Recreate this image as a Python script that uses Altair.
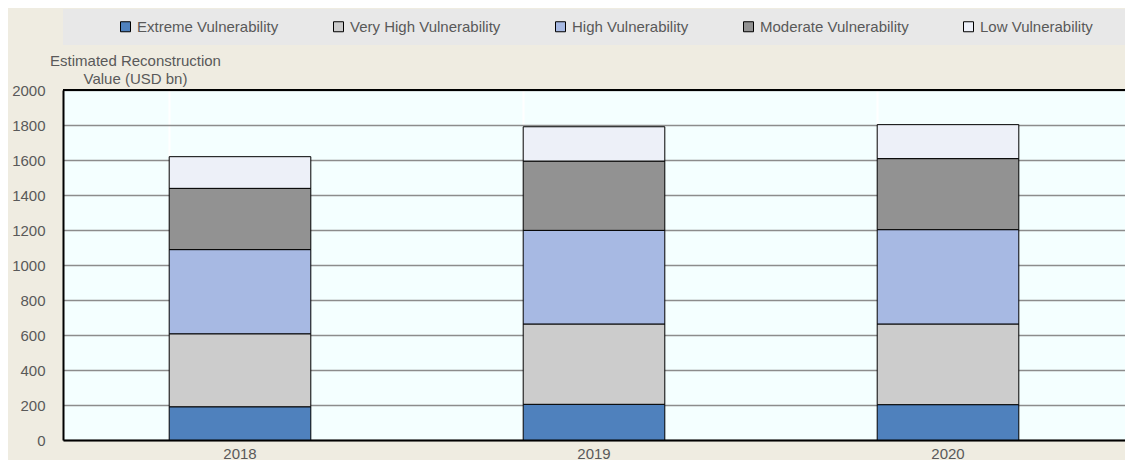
import altair as alt
import pandas as pd

years = ["2018", "2019", "2020"]
categories = ["Extreme Vulnerability", "Very High Vulnerability", "High Vulnerability",
              "Moderate Vulnerability", "Low Vulnerability"]
colors = ["#4f81bd", "#cccccc", "#a7b9e3", "#929292", "#edf0f8"]
extreme = [190, 204, 202]
very_high = [417, 459, 461]
high = [481, 535, 539]
moderate = [350, 396, 406]
low = [181, 196, 194]
y_ticks = list(range(0, 2001, 200))

series = [extreme, very_high, high, moderate, low]
rows = []
for ci, (cat, vals) in enumerate(zip(categories, series)):
    for y, v in zip(years, vals):
        rows.append({"year": y, "category": cat, "value": v, "order": ci})
df = pd.DataFrame(rows)

W = 1062
H = 350
FONT = "Liberation Sans"
TXT = "#595959"

strip = alt.Chart(pd.DataFrame({"a": [0]})).mark_rect(color="#e8e8e8").encode(
    x=alt.value(0), x2=alt.value(W), y=alt.value(-81), y2=alt.value(-45)
)

bars = alt.Chart(df).mark_bar(stroke="black", strokeWidth=1).encode(
    x=alt.X("year:N", title=None,
            scale=alt.Scale(paddingInner=0.6, paddingOuter=0.3),
            axis=alt.Axis(labelAngle=0, labelFont=FONT, labelFontSize=15, labelColor=TXT,
                          labelPadding=6, ticks=False, domainColor="black", domainWidth=2,
                          grid=True, gridColor="white", gridWidth=2, bandPosition=0)),
    y=alt.Y("value:Q", stack="zero",
            scale=alt.Scale(domain=[0, 2000], nice=False),
            axis=alt.Axis(values=y_ticks, format="d",
                          title=["Estimated Reconstruction", "Value (USD bn)"],
                          titleAngle=0, titleAlign="center", titleBaseline="bottom",
                          titleX=72, titleY=-22, titleFont=FONT, titleFontSize=15,
                          titleFontWeight="normal", titleColor=TXT, titleLineHeight=18,
                          labelFont=FONT, labelFontSize=15, labelColor=TXT, labelPadding=18,
                          ticks=False, domainColor="black", domainWidth=2,
                          gridColor="#8c8c8c", gridWidth=1.5)),
    color=alt.Color("category:N",
                    scale=alt.Scale(domain=categories, range=colors),
                    legend=alt.Legend(title=None, orient="none", legendX=55, legendY=-71,
                                      direction="horizontal", columns=5, columnPadding=52,
                                      symbolType="square", symbolSize=100,
                                      symbolStrokeColor="black", symbolStrokeWidth=1,
                                      symbolOpacity=1, labelFont=FONT, labelFontSize=15,
                                      labelColor=TXT, labelOffset=4, labelLimit=300)),
    order=alt.Order("order:Q"),
)

top_border = alt.Chart(pd.DataFrame({"a": [0]})).mark_rule(color="black", strokeWidth=2).encode(
    x=alt.value(0), x2=alt.value(W), y=alt.value(0)
)

chart = alt.layer(strip, bars, top_border).properties(
    width=W, height=H,
    background="#efece1",
    padding={"left": 55, "top": 82, "right": 0, "bottom": 20},
    autosize=alt.AutoSizeParams(type="none"),
).configure_view(fill="#f4ffff", stroke=None)

chart.save("out.html", embed_options={"renderer": "svg", "actions": False})
